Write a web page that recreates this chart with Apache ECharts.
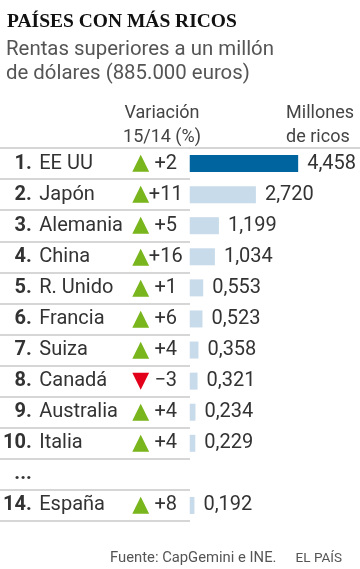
<!DOCTYPE html>
<html>
<head>
<meta charset="utf-8">
<script src="https://cdn.jsdelivr.net/npm/echarts@6/dist/echarts.min.js"></script>
<style>html,body{margin:0;padding:0;background:#fff;}#c{width:360px;height:569px;}</style>
</head>
<body>
<div id="c"></div>
<script>
const ranks = ['1.', '2.', '3.', '4.', '5.', '6.', '7.', '8.', '9.', '10.', '...', '14.'];
const countries = ['EE UU', 'Japón', 'Alemania', 'China', 'R. Unido', 'Francia', 'Suiza', 'Canadá', 'Australia', 'Italia', '', 'España'];
const changes = [2, 11, 5, 16, 1, 6, 4, -3, 4, 4, null, 8];
const values = [4.458, 2.720, 1.199, 1.034, 0.553, 0.523, 0.358, 0.321, 0.234, 0.229, null, 0.192];

const txt = '#333';
const font = 'Roboto';
const gridTop = 148, gridH = 373;

function fmtVal(v) { return v.toFixed(3).replace('.', ','); }
function fmtChg(c) { return c == null ? '' : (c >= 0 ? '+' + c : '\u2212' + Math.abs(c)); }

function labelAxis(fmt, align, margin, extra) {
  return {
    type: 'category', gridIndex: 1, position: 'left', inverse: true, data: countries,
    axisLine: {show: false}, axisTick: {show: false}, splitLine: {show: false},
    axisLabel: Object.assign({
      interval: 0, margin: margin, align: align, color: txt, fontFamily: font, fontSize: 20,
      formatter: function (v, i) { return fmt(i); }
    }, extra || {})
  };
}

const chart = echarts.init(document.getElementById('c'), null, {renderer: 'canvas'});
chart.setOption({
  animation: false,
  backgroundColor: '#fff',
  title: [
    {text: 'PAÍSES CON MÁS RICOS', left: 2, top: 7,
     textStyle: {fontFamily: 'Liberation Serif', fontWeight: 'bold', fontSize: 19.5, color: '#111', lineHeight: 20}},
    {text: 'Rentas superiores a un millón\nde dólares (885.000 euros)', left: 1, top: 33,
     textStyle: {fontFamily: font, fontWeight: 'normal', fontSize: 20.4, color: '#555', lineHeight: 24}},
    {text: 'Variación\n15/14 (%)', left: 157, top: 96, textAlign: 'center',
     textStyle: {fontFamily: font, fontWeight: 'normal', fontSize: 18, color: '#444', lineHeight: 24, align: 'center'}},
    {text: 'Millones\nde ricos', right: 1, top: 96,
     textStyle: {fontFamily: font, fontWeight: 'normal', fontSize: 18, color: '#444', lineHeight: 24, align: 'right'}},
    {text: 'Fuente: CapGemini e INE.', left: 105, top: 546,
     textStyle: {fontFamily: font, fontWeight: 'normal', fontSize: 14.8, color: '#555'}},
    {text: 'EL PAÍS', right: 13, top: 547,
     textStyle: {fontFamily: font, fontWeight: 'normal', fontSize: 13.5, color: '#555'}}
  ],
  grid: [
    {left: 0, width: 190, top: gridTop, height: gridH, containLabel: false},
    {left: 189, right: 0, top: gridTop, height: gridH, containLabel: false}
  ],
  xAxis: [
    {type: 'value', gridIndex: 0, show: false, min: 0, max: 1},
    {type: 'value', gridIndex: 1, min: 0, max: 7, position: 'top',
     axisLine: {show: true, onZero: false, lineStyle: {color: '#c8c8c8', width: 1.5}},
     axisTick: {show: false}, axisLabel: {show: false}, splitLine: {show: false}}
  ],
  yAxis: [
    {type: 'category', gridIndex: 1, position: 'left', inverse: true, data: countries,
     axisLine: {show: false}, axisTick: {show: false}, splitLine: {show: false},
     axisLabel: {interval: 0, margin: 158, align: 'right', color: txt, fontFamily: font, fontSize: 20, fontWeight: 'bold',
       formatter: function (v, i) { return ranks[i]; }}},
    labelAxis(function (i) { return countries[i]; }, 'left', 150.5),
    labelAxis(function (i) { return changes[i] == null ? '' : (changes[i] >= 0 ? '{up|\u25B2}' : '{dn|\u25BC}'); }, 'center', 49,
      {rich: {up: {color: '#79b51c', fontFamily: 'DejaVu Sans', fontSize: 22},
              dn: {color: '#e3001b', fontFamily: 'DejaVu Sans', fontSize: 22}}}),
    labelAxis(function (i) { return fmtChg(changes[i]); }, 'center', 24),
    {type: 'category', gridIndex: 0, inverse: true, data: countries,
     axisLine: {show: false}, axisTick: {show: false}, axisLabel: {show: false},
     splitLine: {show: true, showMinLine: true, showMaxLine: true, lineStyle: {color: '#c8c8c8', width: 1.5}}}
  ],
  series: [{
    type: 'bar', xAxisIndex: 1, yAxisIndex: 0, barWidth: 17,
    data: values.map(function (v) { return v == null ? '-' : v; }),
    itemStyle: {color: function (p) { return p.dataIndex === 0 ? '#00659e' : '#c8dbea'; }},
    label: {show: true, position: 'right', distance: 9, color: txt, fontFamily: font, fontSize: 20,
      formatter: function (p) { return fmtVal(values[p.dataIndex]); }}
  }]
});
</script>
</body>
</html>
